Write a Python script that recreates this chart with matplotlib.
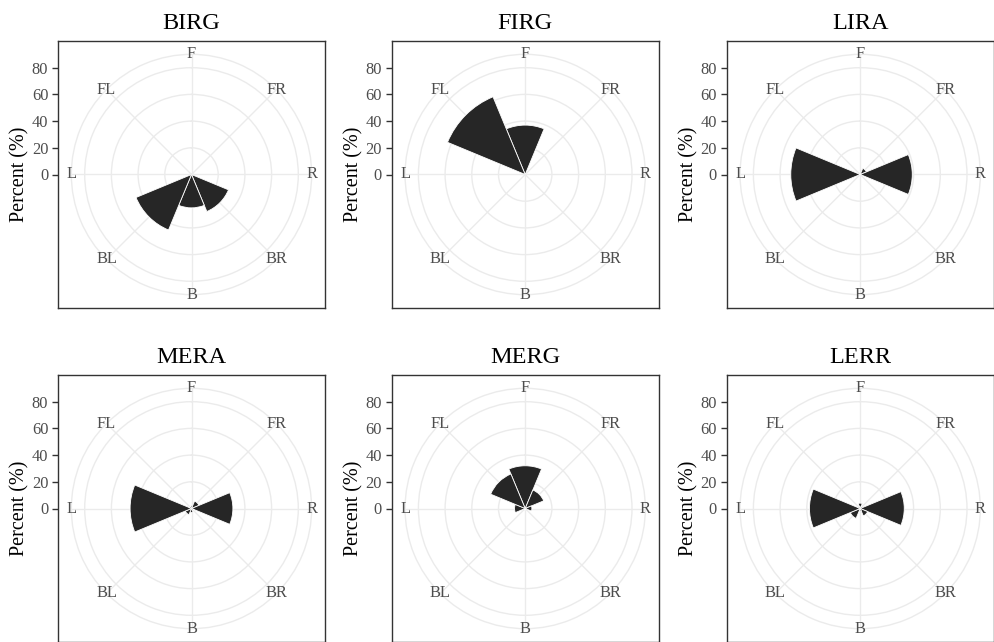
import numpy as np
import matplotlib
matplotlib.use("Agg")
import matplotlib.pyplot as plt

# direction categories, clockwise from the front
directions = ["F", "FR", "R", "BR", "B", "BL", "L", "FL"]

# percent of records per direction
birg = [0, 0, 0, 30, 25, 45, 0, 0]
firg = [37, 0, 0, 0, 0, 0, 0, 63]
lira = [0, 5, 39, 0, 0, 0, 52, 0]
mera = [2, 6, 31, 2, 3, 5, 46, 2]
merg = [32, 15, 5, 1, 1, 1, 8, 28]
lerr = [4, 2, 33, 6, 2, 8, 38, 2]

panel_names = ["BIRG", "FIRG", "LIRA", "MERA", "MERG", "LERR"]
panel_values = [birg, firg, lira, mera, merg, lerr]

r_breaks = [0, 20, 40, 60, 80]
r_outer = 90  # outer ring of the polar panel

plt.rcParams['font.family'] = ['Liberation Serif', 'DejaVu Serif']

W, H = 995, 642
fig = plt.figure(figsize=(W / 100, H / 100), dpi=100)

size = 267  # panel side in px
lefts = [58, 391.7, 726.7]
tops = [41, 375]

grid_col = '#EBEBEB'
text_col = '#4D4D4D'
line_col = '#333333'


def draw_panel(left, top, name, values):
    # square frame with the radial axis on its left side
    ax = fig.add_axes([left / W, 1 - (top + size) / H, size / W, size / H])
    ax.set_xlim(-100, 100)
    ax.set_ylim(-100, 100)
    ax.set_xticks([])
    ax.set_yticks(r_breaks)
    ax.set_yticklabels([str(b) for b in r_breaks])
    ax.tick_params(axis='y', length=4.5, width=1, color=line_col,
                   labelcolor=text_col, labelsize=11.8, pad=2.5)
    for s in ax.spines.values():
        s.set_color(line_col)
        s.set_linewidth(1)
    ax.set_ylabel("Percent (%)", fontsize=14.5, labelpad=1.5)
    ax.set_title(name, fontsize=17.5, pad=8.6)

    # polar plot inside, outer ring at 90
    inner = size * r_outer / 100
    off = (size - inner) / 2
    pax = fig.add_axes([(left + off) / W, 1 - (top + off + inner) / H, inner / W, inner / H],
                       projection='polar')
    pax.set_theta_zero_location('N')
    pax.set_theta_direction(-1)
    pax.patch.set_alpha(0)
    theta = np.deg2rad(np.arange(len(directions)) * 360 / len(directions))
    pax.bar(theta, values, width=2 * np.pi / len(directions), color='#262626',
            edgecolor='white', linewidth=0.6, zorder=3)
    pax.set_ylim(0, r_outer)
    pax.set_yticks(r_breaks[1:])
    pax.set_yticklabels([])
    pax.set_xticks(theta)
    pax.set_xticklabels([])
    pax.grid(color=grid_col, linewidth=1)
    pax.set_axisbelow(True)
    pax.spines['polar'].set_color(grid_col)
    pax.spines['polar'].set_linewidth(1)
    pax.tick_params(length=0)
    for t, d in zip(theta, directions):
        pax.text(t, r_outer, d, ha='center', va='center', fontsize=11.8, color=text_col)


for i, (name, vals) in enumerate(zip(panel_names, panel_values)):
    draw_panel(lefts[i % 3], tops[i // 3], name, vals)

fig.savefig("out.png", dpi=100)
